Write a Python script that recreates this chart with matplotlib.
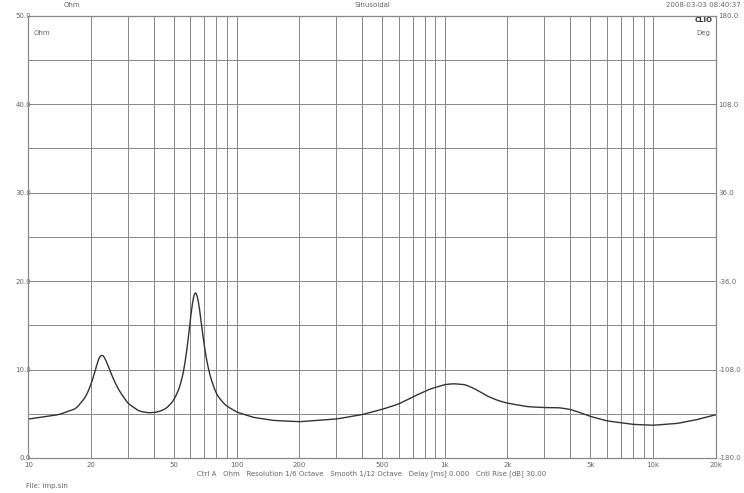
import numpy as np
import matplotlib
matplotlib.use("Agg")
import matplotlib.pyplot as plt
from matplotlib.ticker import FixedLocator, NullFormatter

freq = [10, 14, 17, 19, 20.5, 21.5, 22.4, 23.5, 25, 27, 30, 34, 38, 42, 46, 50, 54, 57, 59.5,
        61.5, 63.3, 65, 67, 70, 74, 80, 88, 100, 120, 150, 200, 300, 400, 500, 600, 700, 850,
        1000, 1100, 1250, 1400, 1600, 1800, 2000, 2500, 3000, 3500, 4000, 4500, 5000, 6000,
        8000, 10000, 13000, 16000, 20000]
ohm = [4.4, 4.9, 5.6, 7.0, 9.0, 10.9, 11.9, 11.2, 9.5, 7.8, 6.2, 5.3, 5.1, 5.2, 5.6, 6.5, 8.3,
       11.0, 14.8, 18.0, 19.2, 18.6, 16.2, 12.5, 9.5, 7.2, 6.0, 5.2, 4.6, 4.25, 4.1, 4.4, 4.9,
       5.5, 6.1, 6.9, 7.8, 8.3, 8.4, 8.3, 7.8, 7.0, 6.5, 6.2, 5.8, 5.7, 5.7, 5.5, 5.1, 4.7, 4.2,
       3.8, 3.7, 3.9, 4.3, 4.9]
xt = [10, 20, 50, 100, 200, 500, 1000, 2000, 5000, 10000, 20000]
xt_labels = ["10", "20", "50", "100", "200", "500", "1k", "2k", "5k", "10k", "20k"]
yl = [0, 10, 20, 30, 40, 50]
yr_labels = ["-180.0", "-108.0", "-36.0", "36.0", "108.0", "180.0"]

gc = "#888888"
tc = "#666666"
fig = plt.figure(figsize=(7.44, 4.93), dpi=100)
ax = fig.add_axes([0.038, 0.071, 0.924, 0.897])
ax.set_xscale("log")
ax.set_xlim(10, 20000)
ax.set_ylim(0, 50)
minor = [m * d for d in (10, 100, 1000, 10000) for m in range(2, 10) if m * d < 20000]
ax.xaxis.set_major_locator(FixedLocator(xt))
ax.xaxis.set_minor_locator(FixedLocator(minor))
ax.xaxis.set_minor_formatter(NullFormatter())
ax.set_xticklabels(xt_labels)
ax.set_yticks(yl)
ax.set_yticklabels([f"{v:.1f}" for v in yl])
ax.set_yticks(np.arange(5, 50, 10), minor=True)
ax.grid(True, which="both", color=gc, lw=0.7)
ax.tick_params(which="both", length=0, labelsize=5, colors=tc, pad=3)
ax.yaxis.set_tick_params(pad=-2)
for s in ax.spines.values():
    s.set_color(gc)

ax2 = ax.twinx()
ax2.set_ylim(0, 50)
ax2.set_yticks(yl)
ax2.set_yticklabels(yr_labels)
ax2.tick_params(length=0, labelsize=5, colors=tc, pad=2)
for s in ax2.spines.values():
    s.set_color(gc)

# smooth the read-off points in log-frequency for drawing
lf = np.log10(freq)
dense = np.linspace(lf[0], lf[-1], 800)
y = np.interp(dense, lf, ohm)
k = np.ones(7) / 7
ys = np.convolve(np.pad(y, 3, mode="edge"), k, mode="valid")
ax.plot(10 ** dense, ys, color="#333333", lw=1.0)

fig.text(0.085, 0.985, "Ohm", fontsize=5, color=tc)
fig.text(0.5, 0.985, "Sinusoidal", fontsize=5, color=tc, ha="center")
fig.text(0.995, 0.985, "2008-03-03 08:40:37", fontsize=5, color=tc, ha="right")
fig.text(0.045, 0.93, "Ohm", fontsize=5, color=tc)
fig.text(0.955, 0.93, "Deg", fontsize=5, color=tc, ha="right")
fig.text(0.958, 0.955, "CLIO", fontsize=5, color="#333333", ha="right", weight="bold")
fig.text(0.5, 0.035, "Ctrl A   Ohm   Resolution 1/6 Octave   Smooth 1/12 Octave   Delay [ms] 0.000   Cntl Rise [dB] 30.00",
         fontsize=5, color=tc, ha="center")
fig.text(0.035, 0.01, "File: imp.sin", fontsize=5, color=tc)
fig.savefig("out.png", dpi=100, facecolor="white")
